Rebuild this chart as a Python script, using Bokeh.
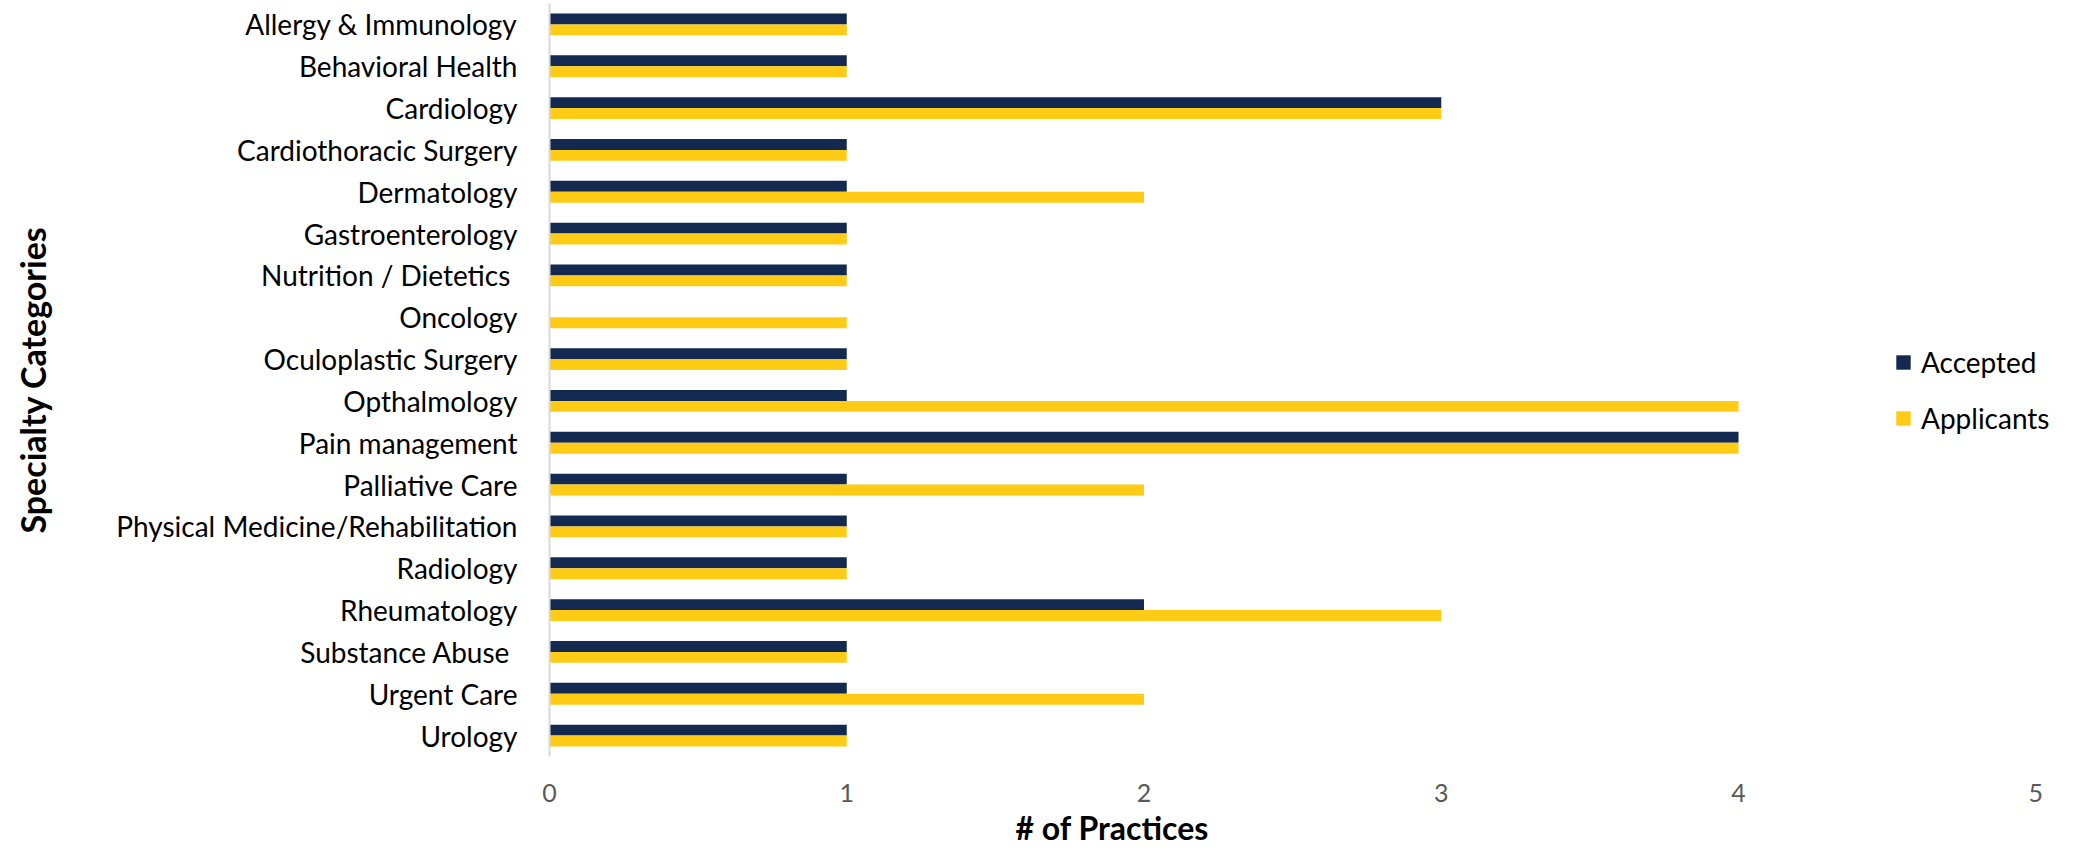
from bokeh.plotting import figure
from bokeh.models import FactorRange, Range1d, FixedTicker, Legend, LegendItem, Title
from bokeh.transform import dodge
from bokeh.embed import file_html
from bokeh.resources import INLINE

categories = [
    "Allergy & Immunology", "Behavioral Health", "Cardiology", "Cardiothoracic Surgery",
    "Dermatology", "Gastroenterology", "Nutrition / Dietetics ", "Oncology",
    "Oculoplastic Surgery", "Opthalmology", "Pain management", "Palliative Care",
    "Physical Medicine/Rehabilitation", "Radiology", "Rheumatology", "Substance Abuse ",
    "Urgent Care", "Urology",
]
accepted = [1, 1, 3, 1, 1, 1, 1, 0, 1, 1, 4, 1, 1, 1, 2, 1, 1, 1]
applicants = [1, 1, 3, 1, 2, 1, 1, 1, 1, 4, 4, 2, 1, 1, 3, 1, 2, 1]
x_ticks = [0, 1, 2, 3, 4, 5]
series_names = ["Accepted", "Applicants"]

NAVY = "#13294F"
MAIZE = "#FFCB14"
FONT = "Lato"

factors = list(reversed(categories))
p = figure(
    width=2080, height=848,
    y_range=FactorRange(factors=factors),
    x_range=Range1d(0, 5.1),
    output_backend="svg", toolbar_location=None,
    min_border_left=549, min_border_right=15, min_border_top=3, min_border_bottom=89,
)
p.outline_line_color = None
p.xgrid.grid_line_color = None
p.ygrid.grid_line_color = None

data = dict(cat=categories, accepted=accepted, applicants=applicants)
r1 = p.hbar(y=dodge("cat", 0.13, range=p.y_range), right="accepted", left=0, height=0.26,
            source=data, fill_color=NAVY, line_color=None)
r2 = p.hbar(y=dodge("cat", -0.13, range=p.y_range), right="applicants", left=0, height=0.26,
            source=data, fill_color=MAIZE, line_color=None)

# axes
p.xaxis.ticker = FixedTicker(ticks=x_ticks)
p.xaxis.axis_line_color = None
p.xaxis.major_tick_line_color = None
p.xaxis.minor_tick_line_color = None
p.xaxis.major_label_standoff = 21
p.xaxis.major_label_text_font = FONT
p.xaxis.major_label_text_font_size = "25px"
p.xaxis.major_label_text_color = "#595959"

p.yaxis.axis_line_color = "#D9D9D9"
p.yaxis.axis_line_width = 2
p.yaxis.major_tick_line_color = None
p.yaxis.minor_tick_line_color = None
p.yaxis.major_label_standoff = 26
p.yaxis.major_label_text_font = FONT
p.yaxis.major_label_text_font_size = "28px"
p.yaxis.major_label_text_color = "#000000"
p.yaxis.axis_label = "Specialty Categories"
p.yaxis.axis_label_text_font = FONT
p.yaxis.axis_label_text_font_size = "34px"
p.yaxis.axis_label_text_font_style = "bold"
p.yaxis.axis_label_text_color = "#000000"
p.yaxis.axis_label_standoff = 60

xtitle = Title(text="# of Practices", align="left", offset=466, standoff=3,
               text_font=FONT, text_font_size="32px", text_font_style="bold",
               text_color="#000000")
p.add_layout(xtitle, "below")

legend = Legend(
    items=[LegendItem(label=series_names[0], renderers=[r1]),
           LegendItem(label=series_names[1], renderers=[r2])],
    location=(1345, 321), orientation="vertical",
    glyph_width=18, glyph_height=18, label_standoff=9, spacing=22,
    padding=0, margin=0, border_line_color=None, background_fill_alpha=0,
    label_text_font=FONT, label_text_font_size="28px", label_text_color="#000000",
)
p.add_layout(legend)

open("out.html", "w").write(file_html(p, INLINE))
